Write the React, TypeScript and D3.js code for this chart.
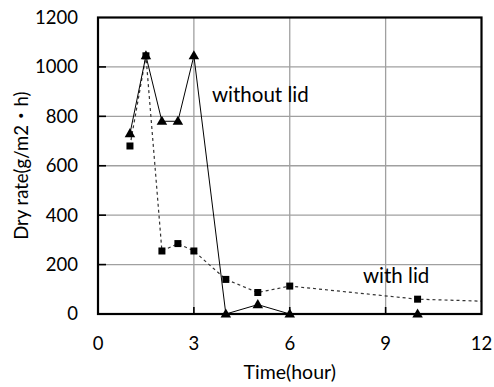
import React from 'react';
import * as d3 from 'd3';

// hours
const withoutLidTime = [1, 1.5, 2, 2.5, 3, 4, 5, 6, 10];
const withoutLidRate = [730, 1045, 780, 780, 1045, 0, 38, 0, 0];

const withLidTime = [1, 1.5, 2, 2.5, 3, 4, 5, 6, 10];
const withLidRate = [680, 1045, 255, 285, 255, 140, 87, 113, 60];
// dashed line runs on past the last marker to the edge of the plot
const withLidTail = [12, 52];

const xTicks = [0, 3, 6, 9, 12];
const yTicks = [0, 200, 400, 600, 800, 1000, 1200];

const font = 'Lato, "Noto Sans CJK JP", sans-serif';

const App = () => {
  const width = 494;
  const height = 387;
  const margin = { top: 17.5, right: 12.5, bottom: 73, left: 98 };

  const x = d3.scaleLinear()
    .domain([0, 12])
    .range([margin.left, width - margin.right]);
  const y = d3.scaleLinear()
    .domain([0, 1200])
    .range([height - margin.bottom, margin.top]);

  const line = d3.line<[number, number]>()
    .x(d => x(d[0]))
    .y(d => y(d[1]));

  const noLid: [number, number][] = withoutLidTime.map((t, i) => [t, withoutLidRate[i]]);
  const lid: [number, number][] = withLidTime.map((t, i) => [t, withLidRate[i]]);
  const lidPath: [number, number][] = [...lid, [withLidTail[0], withLidTail[1]]];

  const tri = d3.symbol().type(d3.symbolTriangle).size(48)();

  const x0 = x(0), x1 = x(12), y0 = y(0), y1 = y(1200);

  return (
    <svg width={width} height={height} style={{ position: 'absolute', left: 0, top: 0 }}>
      {/* grid */}
      {yTicks.filter(t => t > 0 && t < 1200).map(t => (
        <line key={'gy' + t} x1={x0} x2={x1} y1={y(t)} y2={y(t)} stroke="#a0a0a0" strokeWidth={1.3} />
      ))}
      {xTicks.filter(t => t > 0 && t < 12).map(t => (
        <line key={'gx' + t} x1={x(t)} x2={x(t)} y1={y0} y2={y1} stroke="#a0a0a0" strokeWidth={1.3} />
      ))}

      {/* inward ticks */}
      {yTicks.filter(t => t > 0 && t < 1200).map(t => (
        <line key={'ty' + t} x1={x0} x2={x0 + 8} y1={y(t)} y2={y(t)} stroke="#000" strokeWidth={1.6} />
      ))}
      {xTicks.filter(t => t > 0 && t < 12).map(t => (
        <line key={'tx' + t} x1={x(t)} x2={x(t)} y1={y0} y2={y0 - 7} stroke="#000" strokeWidth={1.6} />
      ))}

      {/* with lid: dashed */}
      <path d={line(lidPath) || ''} fill="none" stroke="#333" strokeWidth={1.2} strokeDasharray="3,3" />
      {/* without lid: solid */}
      <path d={line(noLid) || ''} fill="none" stroke="#000" strokeWidth={1} />

      {/* frame */}
      <rect x={x0} y={y1} width={x1 - x0} height={y0 - y1} fill="none" stroke="#000" strokeWidth={2.2} />

      {lid.map((d, i) => (
        <rect key={'s' + i} x={x(d[0]) - 3.5} y={y(d[1]) - 3.5} width={7} height={7} fill="#000" />
      ))}
      {noLid.map((d, i) => (
        <path key={'t' + i} d={tri || ''} transform={`translate(${x(d[0])},${y(d[1]) + 0.5})`} fill="#000" />
      ))}

      {/* tick labels */}
      {yTicks.map(t => (
        <text key={'ly' + t} x={x0 - 20} y={y(t)} dy="0.35em" textAnchor="end"
          fontFamily={font} fontSize={18.5} fill="#000">{t}</text>
      ))}
      {xTicks.map(t => (
        <text key={'lx' + t} x={x(t)} y={350} textAnchor="middle"
          fontFamily={font} fontSize={18.5} fill="#000">{t}</text>
      ))}

      <text x={x(6)} y={379} textAnchor="middle" fontFamily={font} fontSize={19.5} fill="#000">Time(hour)</text>
      <text transform={`translate(28,${(y0 + y1) / 2}) rotate(-90)`} textAnchor="middle"
        fontFamily={font} fontSize={18.5} fill="#000">Dry rate(g/m2・h)</text>

      <text x={212} y={102} fontFamily={font} fontSize={20.5} fill="#000">without lid</text>
      <text x={363} y={283} fontFamily={font} fontSize={20.5} fill="#000">with lid</text>
    </svg>
  );
};

export default App;
